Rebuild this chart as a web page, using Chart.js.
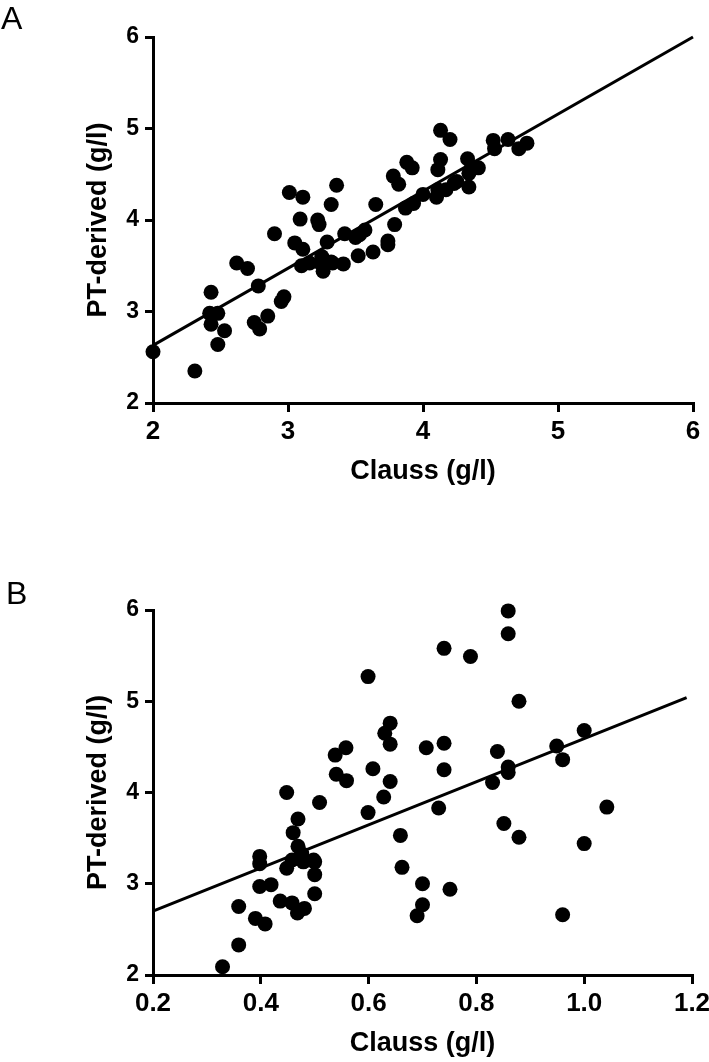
<!DOCTYPE html>
<html>
<head>
<meta charset="utf-8">
<title>PT-derived vs Clauss fibrinogen</title>
<script src="https://cdn.jsdelivr.net/npm/chart.js@4.4.1/dist/chart.umd.min.js"></script>
<style>
  html, body { margin: 0; padding: 0; background: #fff; }
  body { width: 709px; height: 1062px; position: relative; overflow: hidden; font-family: 'Liberation Sans', Arial, sans-serif; }
  .panel { position: absolute; left: 0; width: 709px; }
  .panel-label { position: absolute; font-size: 32px; line-height: 1; color: #000; z-index: 2; }
</style>
</head>
<body>
<div class="panel-label" style="left:1px; top:2px;">A</div>
<div class="panel" style="top:0; height:490px;"><canvas id="chartA"></canvas></div>
<div class="panel-label" style="left:6px; top:577px;">B</div>
<div class="panel" style="top:490px; height:572px;"><canvas id="chartB"></canvas></div>

<script>
// --- Panel A: Clauss vs PT-derived (g/l) ---
const clausA = [2.00, 2.31, 2.43, 2.42, 2.48, 2.43, 2.48, 2.53, 2.62, 2.70,
                2.78, 2.75, 2.79, 2.85, 2.95, 2.97, 2.90, 3.01, 3.11, 3.09,
                3.05, 3.11, 3.10, 3.16, 3.22, 3.23, 3.25, 3.27, 3.26, 3.32,
                3.29, 3.32, 3.36, 3.41, 3.42, 3.50, 3.53, 3.57, 3.52, 3.63,
                3.65, 3.74, 3.74, 3.79, 3.78, 3.82, 3.87, 3.88, 3.92, 3.93,
                4.00, 4.10, 4.11, 4.11, 4.13, 4.13, 4.20, 4.17, 4.25, 4.23,
                4.33, 4.36, 4.41, 4.34, 4.34, 4.52, 4.53, 4.63, 4.71, 4.77,
                3.24, 3.33];
const ptA    = [2.56, 2.35, 3.21, 2.98, 2.98, 2.86, 2.64, 2.79, 3.53, 3.47,
                3.28, 2.88, 2.81, 2.95, 3.11, 3.16, 3.85, 4.30, 4.25, 4.01,
                3.75, 3.68, 3.50, 3.53, 4.00, 3.95, 3.60, 3.53, 3.44, 3.54,
                3.76, 4.17, 4.38, 3.52, 3.85, 3.81, 3.84, 3.89, 3.61, 3.65,
                4.17, 3.77, 3.73, 3.95, 4.48, 4.39, 4.13, 4.63, 4.57, 4.18,
                4.28, 4.25, 4.33, 4.55, 4.66, 4.98, 4.88, 4.33, 4.42, 4.40,
                4.67, 4.58, 4.57, 4.51, 4.36, 4.87, 4.78, 4.88, 4.78, 4.84,
                3.53, 3.53];
const fitAx = [2, 6];
const fitAy = [2.63, 6.0];

// --- Panel B ---
const clausB = [0.329, 0.359, 0.359, 0.390, 0.408, 0.398, 0.419, 0.398, 0.398, 0.436,
                0.458, 0.468, 0.481, 0.500, 0.500, 0.500, 0.448, 0.458, 0.469, 0.476,
                0.479, 0.498, 0.460, 0.469, 0.448, 0.509, 0.538, 0.558, 0.540, 0.559,
                0.599, 0.599, 0.608, 0.628, 0.630, 0.640, 0.640, 0.640, 0.659, 0.662,
                0.690, 0.700, 0.700, 0.707, 0.730, 0.740, 0.740, 0.740, 0.751, 0.789,
                0.830, 0.839, 0.851, 0.859, 0.859, 0.859, 0.859, 0.879, 0.879, 0.949,
                0.960, 0.960, 1.000, 1.000, 1.042];
const ptB    = [2.09, 2.33, 2.75, 2.62, 2.56, 2.97, 2.99, 3.30, 3.22, 2.81,
                2.79, 2.68, 2.73, 2.89, 3.10, 3.24, 3.17, 3.26, 3.41, 3.33,
                3.24, 3.26, 3.56, 3.71, 4.00, 3.89, 4.41, 4.49, 4.20, 4.13,
                5.27, 3.78, 4.26, 3.95, 4.65, 4.76, 4.53, 4.12, 3.53, 3.18,
                2.65, 2.77, 3.00, 4.49, 3.83, 4.54, 4.25, 5.58, 2.94, 5.49,
                4.11, 4.45, 3.66, 5.99, 5.74, 4.28, 4.22, 5.00, 3.51, 4.51,
                4.36, 2.66, 4.68, 3.44, 3.84];
const fitBx = [0.2, 1.19];
const fitBy = [2.70, 5.04];

// --- Axis ranges / labels ---
const yRange = [2, 6, 1];
const xRangeA = [2, 6, 1];
const xRangeB = [0.2, 1.2, 0.2];
const xTitle = 'Clauss (g/l)';
const yTitle = 'PT-derived (g/l)';

document.addEventListener('DOMContentLoaded', () => {
    const FONT = "'Liberation Sans', Arial, sans-serif";
    const black = '#000';

    // drop the auto padding chart.js adds for the edge tick labels
    const zeroPad = (axis) => {
        axis.paddingTop = 0; axis.paddingBottom = 0;
        axis.paddingLeft = 0; axis.paddingRight = 0;
    };

    function buildChart(id, xs, ys, fitX, fitY, xRange, xFmt, padTop, padRight) {
        const points = xs.map((x, i) => ({ x: x, y: ys[i] }));
        const fit = fitX.map((x, i) => ({ x: x, y: fitY[i] }));

        return new Chart(document.getElementById(id), {
            type: 'scatter',
            data: {
                datasets: [
                    { data: points, backgroundColor: black, borderWidth: 0, pointRadius: 7.5, pointHoverRadius: 7.5, clip: false },
                    { data: fit, showLine: true, borderColor: black, borderWidth: 3, pointRadius: 0, fill: false, clip: false }
                ]
            },
            options: {
                responsive: true,
                maintainAspectRatio: false,
                animation: false,
                events: [],
                layout: { padding: { top: padTop, right: padRight, bottom: 0, left: 0 } },
                plugins: { legend: { display: false }, tooltip: { enabled: false } },
                scales: {
                    x: {
                        type: 'linear',
                        min: xRange[0], max: xRange[1],
                        border: { display: true, color: black, width: 3 },
                        grid: { drawOnChartArea: false, drawTicks: true, tickLength: 9, color: black, lineWidth: 3 },
                        ticks: { stepSize: xRange[2], color: black, padding: 4, font: { family: FONT, size: 26, weight: 'bold' }, callback: xFmt },
                        title: { display: true, text: xTitle, color: black, font: { family: FONT, size: 27, weight: 'bold' }, padding: { top: 0, bottom: 2 } },
                        afterFit: (axis) => { axis.height = 87; zeroPad(axis); }
                    },
                    y: {
                        type: 'linear',
                        min: yRange[0], max: yRange[1],
                        border: { display: true, color: black, width: 3 },
                        grid: { drawOnChartArea: false, drawTicks: true, tickLength: 8, color: black, lineWidth: 3 },
                        ticks: { stepSize: yRange[2], color: black, padding: 6, font: { family: FONT, size: 23, weight: 'bold' } },
                        title: { display: true, text: yTitle, color: black, font: { family: FONT, size: 27, weight: 'bold' }, padding: { top: 82, bottom: 0 } },
                        afterFit: (axis) => { axis.width = 153; zeroPad(axis); }
                    }
                }
            }
        });
    }

    buildChart('chartA', clausA, ptA, fitAx, fitAy, xRangeA, (v) => v, 37, 16);
    buildChart('chartB', clausB, ptB, fitBx, fitBy, xRangeB, (v) => Number(v).toFixed(1), 120, 17);
});
</script>
</body>
</html>
